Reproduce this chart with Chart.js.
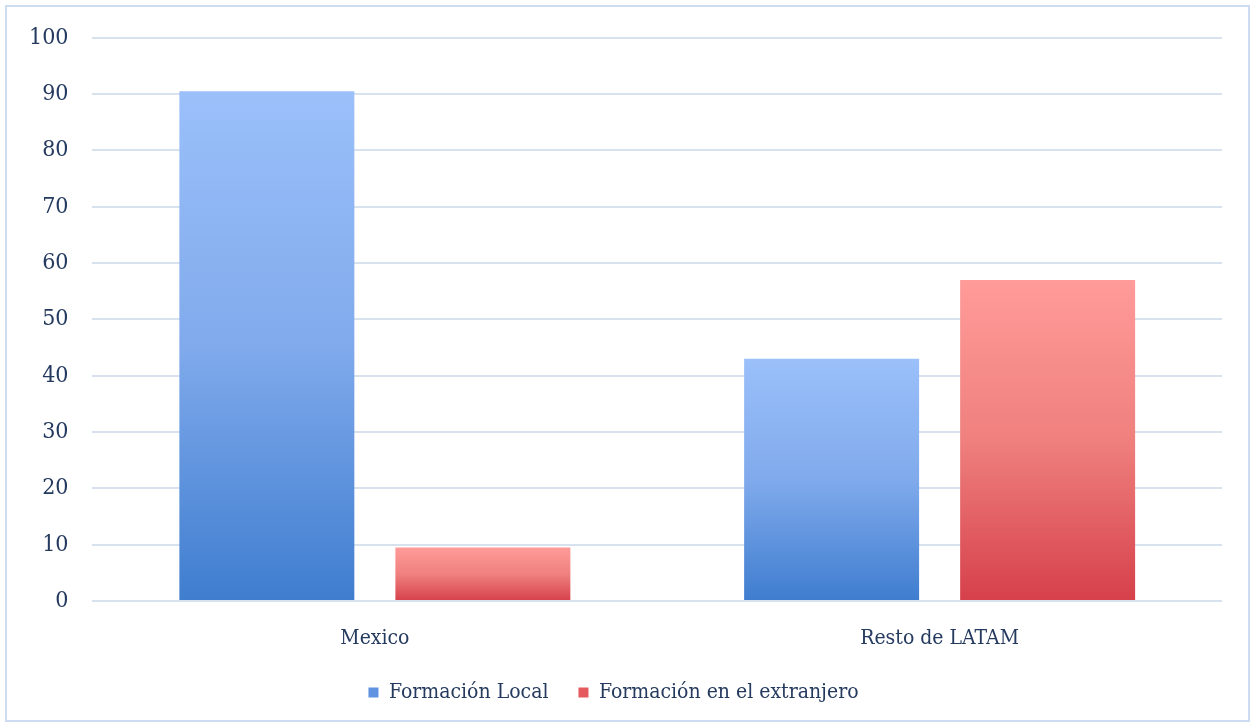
<!DOCTYPE html>
<html>
<head>
<meta charset="utf-8">
<script src="https://cdn.jsdelivr.net/npm/chart.js@4/dist/chart.umd.min.js"></script>
<style>
    body { margin: 0; background: #fff; }
    #wrap { position: absolute; left: 5px; top: 5px; width: 1241px; height: 713px; border: 2px solid #cddcf0; }
    canvas { position: absolute; left: 0; top: 0; }
</style>
</head>
<body>
<div id="wrap"></div>
<canvas id="chart" width="1255" height="727"></canvas>
<script>
const categories = ['Mexico', 'Resto de LATAM'];
const seriesNames = ['Formación Local', 'Formación en el extranjero'];
const localValues = [90.5, 43];
const abroadValues = [9.5, 57];
const yTicks = [0, 10, 20, 30, 40, 50, 60, 70, 80, 90, 100];

const textColor = '#243a5e';
const fontFamily = '"DejaVu Serif Condensed", "DejaVu Serif", serif';

// vertical gradient for each bar, from its top down to the zero line
function barGradient(light, mid, dark) {
    return function (ctx) {
        const chart = ctx.chart;
        const y = chart.scales.y;
        if (!chart.chartArea || !y || ctx.raw === undefined) return dark;
        const top = y.getPixelForValue(ctx.raw);
        const bottom = y.getPixelForValue(0);
        const g = chart.ctx.createLinearGradient(0, top, 0, bottom);
        g.addColorStop(0, light);
        g.addColorStop(0.5, mid);
        g.addColorStop(1, dark);
        return g;
    };
}

new Chart(document.getElementById('chart').getContext('2d'), {
    type: 'bar',
    data: {
        labels: categories,
        datasets: [{
            label: seriesNames[0],
            data: localValues,
            backgroundColor: barGradient('#9bc0fa', '#80aaec', '#3f7dcf'),
            borderWidth: 0
        }, {
            label: seriesNames[1],
            data: abroadValues,
            backgroundColor: barGradient('#ff9b99', '#ef807e', '#d6404a'),
            borderWidth: 0
        }]
    },
    options: {
        responsive: false,
        animation: false,
        categoryPercentage: 0.765,
        barPercentage: 0.81,
        layout: {
            padding: { top: 25, left: 5, right: 33, bottom: 14 }
        },
        scales: {
            x: {
                grid: { display: false },
                border: { display: false },
                ticks: {
                    color: textColor,
                    padding: 17,
                    font: { family: fontFamily, size: 21 }
                },
                // keep the category labels close under the plot
                afterFit: scale => { scale.height = 51; }
            },
            y: {
                min: 0,
                max: 100,
                afterBuildTicks: axis => {
                    axis.ticks = yTicks.map(v => ({ value: v }));
                },
                grid: { color: '#d8e1ee', lineWidth: 2, drawTicks: false },
                border: { display: false },
                ticks: {
                    color: textColor,
                    padding: 24,
                    font: { family: fontFamily, size: 23 }
                }
            }
        },
        plugins: {
            tooltip: { enabled: false },
            legend: {
                position: 'bottom',
                labels: {
                    color: textColor,
                    boxWidth: 10,
                    boxHeight: 10,
                    padding: 30,
                    font: { family: fontFamily, size: 21 },
                    generateLabels: chart => chart.data.datasets.map((ds, i) => ({
                        text: ds.label,
                        fillStyle: ['#5f93e2', '#e45a5e'][i],
                        strokeStyle: 'transparent',
                        lineWidth: 0,
                        datasetIndex: i,
                        fontColor: textColor
                    }))
                }
            }
        }
    }
});
</script>
</body>
</html>
